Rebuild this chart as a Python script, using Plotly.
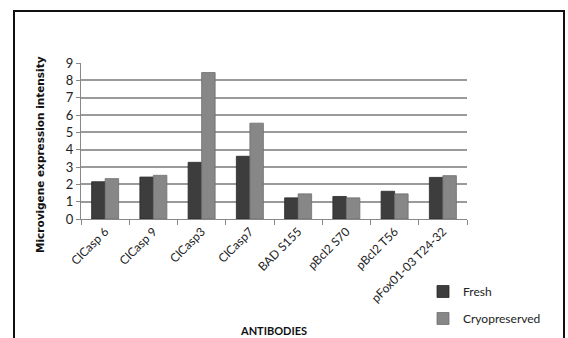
import plotly.graph_objects as go

categories = ["ClCasp 6", "ClCasp 9", "ClCasp3", "ClCasp7", "BAD S155",
              "pBcl2 S70", "pBcl2 T56", "pFox01-03 T24-32"]
fresh = [2.15, 2.42, 3.27, 3.62, 1.22, 1.3, 1.6, 2.4]
cryopreserved = [2.33, 2.52, 8.45, 5.53, 1.45, 1.22, 1.45, 2.5]
y_ticks = [0, 1, 2, 3, 4, 5, 6, 7, 8, 9]

W, H = 568, 338
L, R, T, B = 81, 101, 63, 119
pw = W - L - R
ph = H - T - B

fig = go.Figure()
fig.add_trace(go.Bar(x=categories, y=fresh, name="Fresh",
                     marker=dict(color="#3d3d3d", line=dict(color="#2a2a2a", width=0.8)),
                     legendgroup="a"))
fig.add_trace(go.Bar(x=categories, y=cryopreserved, name="Cryopreserved",
                     marker=dict(color="#878787", line=dict(color="#6e6e6e", width=0.8)),
                     legendgroup="b"))

font_family = "Lato, 'Open Sans', sans-serif"

fig.update_layout(
    width=W, height=H,
    margin=dict(l=L, r=R, t=T, b=B, autoexpand=False),
    paper_bgcolor="white", plot_bgcolor="white",
    barmode="group", bargap=0.44, bargroupgap=0.0,
    font=dict(family=font_family, size=12, color="#222"),
    showlegend=True,
    legend=dict(x=(423 - L) / pw, y=(219 - 277) / ph, xanchor="left", yanchor="top",
                font=dict(size=12, color="#222"), tracegroupgap=8,
                bgcolor="rgba(0,0,0,0)", itemwidth=30),
    xaxis=dict(type="category", tickangle=-45, ticks="outside", tickson="boundaries",
               ticklen=5, tickcolor="#888", showline=True, linecolor="#888", linewidth=1,
               tickfont=dict(size=12, color="#222"), showgrid=False, automargin=False),
    yaxis=dict(range=[0, 9], tickvals=y_ticks, ticks="outside", ticklen=4, tickcolor="#888",
               showline=True, linecolor="#888", linewidth=1,
               showgrid=True, gridcolor="#9a9a9a", gridwidth=1.5,
               tickfont=dict(size=13, color="#222"), automargin=False, zeroline=False),
    annotations=[
        dict(text="<b>Microvigene expression intensity</b>", textangle=-90,
             x=(40 - L) / pw, y=(219 - 155) / ph, xref="paper", yref="paper",
             xanchor="center", yanchor="middle", showarrow=False,
             font=dict(family="'DejaVu Sans', Verdana, sans-serif", size=10.5, color="#111")),
        dict(text="<b>ANTIBODIES</b>", x=(273 - L) / pw, y=(219 - 330) / ph,
             xref="paper", yref="paper", xanchor="center", yanchor="middle",
             showarrow=False, font=dict(family=font_family, size=11, color="#111")),
    ],
    shapes=[
        dict(type="rect", xref="paper", yref="paper",
             x0=(14 - L) / pw, x1=(564 - L) / pw, y0=(219 - 360) / ph, y1=(219 - 11) / ph,
             line=dict(color="#111", width=2), fillcolor="rgba(0,0,0,0)", layer="below"),
    ],
)

fig.write_html("out.html")
